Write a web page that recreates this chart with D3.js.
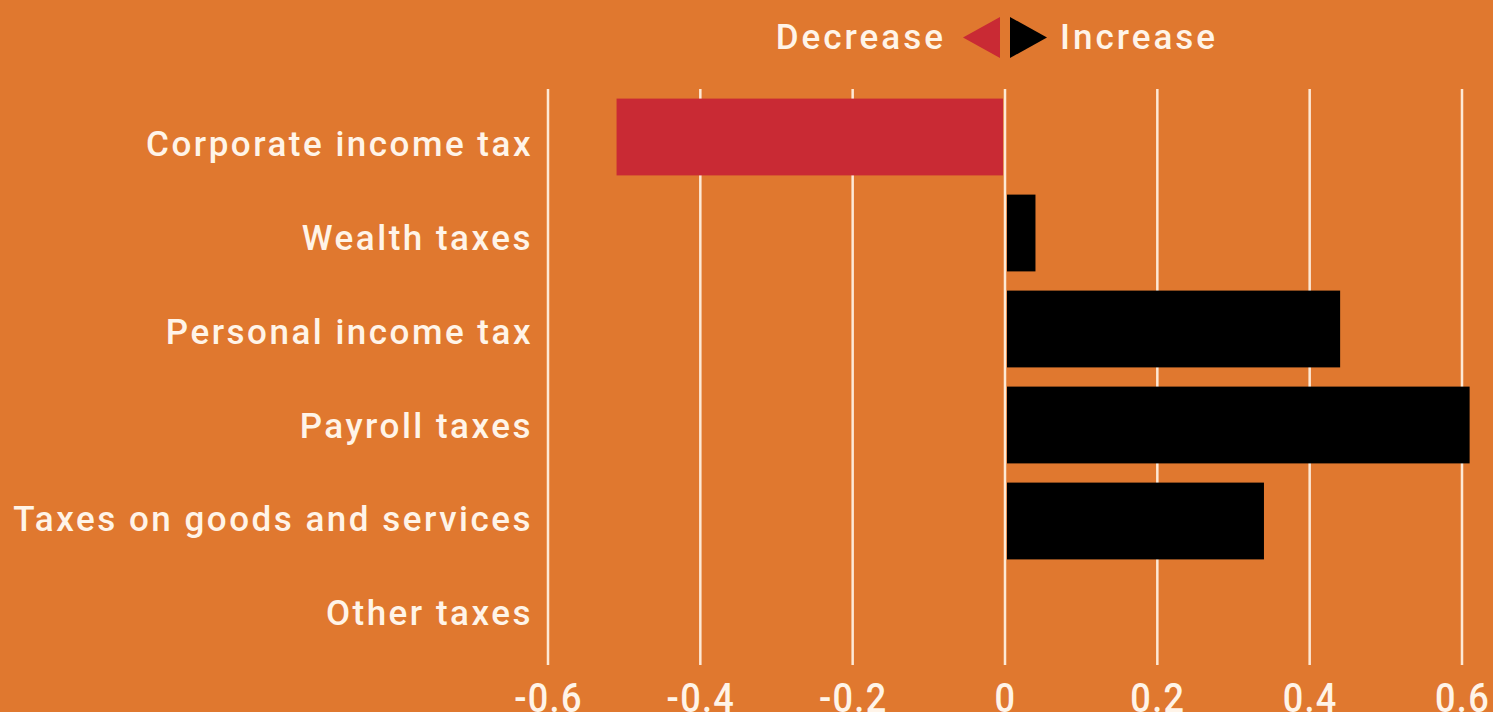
<!DOCTYPE html>
<html>
<head>
<meta charset="utf-8">
<script src="https://cdn.jsdelivr.net/npm/d3@7"></script>
<style>
  html, body { margin: 0; padding: 0; background: #e0782f; }
  svg { display: block; }
  .lbl { font-family: Roboto, "DejaVu Sans", sans-serif; font-weight: 500; fill: #fff4e8; }
</style>
</head>
<body>
<div id="chart"></div>
<script>
// values
var categories = ["Corporate income tax", "Wealth taxes", "Personal income tax",
                  "Payroll taxes", "Taxes on goods and services", "Other taxes"];
var changes = [-0.51, 0.04, 0.44, 0.61, 0.34, 0];
var tickValues = [-0.6, -0.4, -0.2, 0, 0.2, 0.4, 0.6];

var width = 1493, height = 712;
var bg = "#e0782f", red = "#c92a34", grid = "#fde9d6";

var data = categories.map(function(c, i) { return {name: c, value: changes[i]}; });

var svg = d3.select("#chart").append("svg")
  .attr("width", width)
  .attr("height", height);

svg.append("rect").attr("width", width).attr("height", height).attr("fill", bg);

var x = d3.scaleLinear().domain([-0.6, 0.6]).range([548, 1462]);
var y = d3.scaleBand().domain(categories).range([89, 665]).paddingInner(0.2).paddingOuter(0.1);
// labels sit on a slightly tighter spacing than the bars
var yLabel = d3.scalePoint().domain(categories).range([143.5, 612]);

// vertical grid lines
svg.append("g")
  .selectAll("line")
  .data(tickValues)
  .enter().append("line")
    .attr("x1", d => x(d)).attr("x2", d => x(d))
    .attr("y1", 89).attr("y2", 665)
    .attr("stroke", grid)
    .attr("stroke-width", 2.5);

// bars (small gap around the zero line)
svg.append("g")
  .selectAll("rect")
  .data(data.filter(d => d.value != 0))
  .enter().append("rect")
    .attr("x", d => d.value < 0 ? x(d.value) : x(0) + 2)
    .attr("width", d => Math.abs(x(d.value) - x(0)) - 2)
    .attr("y", d => y(d.name))
    .attr("height", y.bandwidth())
    .attr("fill", d => d.value < 0 ? red : "#000");

// category labels
var yAxis = d3.axisLeft(yLabel).tickSize(0).tickPadding(0);
svg.append("g")
  .attr("transform", "translate(533,0)")
  .call(yAxis)
  .call(g => g.select(".domain").remove())
  .selectAll("text")
    .attr("class", "lbl")
    .attr("dy", "0.355em")
    .style("font-size", "35px")
    .style("letter-spacing", "2.5px");

// bottom tick labels
var xAxis = d3.axisBottom(x).tickValues(tickValues).tickSize(0).tickPadding(0)
  .tickFormat(d => d == 0 ? "0" : d3.format(".1f")(d).replace("−", "-"));
svg.append("g")
  .attr("transform", "translate(0,682)")
  .call(xAxis)
  .call(g => g.select(".domain").remove())
  .selectAll("text")
    .attr("class", "lbl")
    .attr("dy", "0.72em")
    .attr("transform", "scale(0.88,1)")
    .style("font-size", "41px")
    .style("letter-spacing", "1.5px");

// legend
var legend = svg.append("g");
legend.append("text")
  .attr("class", "lbl")
  .attr("x", 946).attr("y", 37).attr("dy", "0.355em")
  .attr("text-anchor", "end")
  .style("font-size", "35px").style("letter-spacing", "3px")
  .text("Decrease");
legend.append("path")
  .attr("d", "M1000,17 L963,37.5 L1000,58 Z")
  .attr("fill", red);
legend.append("path")
  .attr("d", "M1010,17 L1047,37.5 L1010,58 Z")
  .attr("fill", "#000");
legend.append("text")
  .attr("class", "lbl")
  .attr("x", 1060).attr("y", 37).attr("dy", "0.355em")
  .style("font-size", "35px").style("letter-spacing", "3px")
  .text("Increase");
</script>
</body>
</html>
